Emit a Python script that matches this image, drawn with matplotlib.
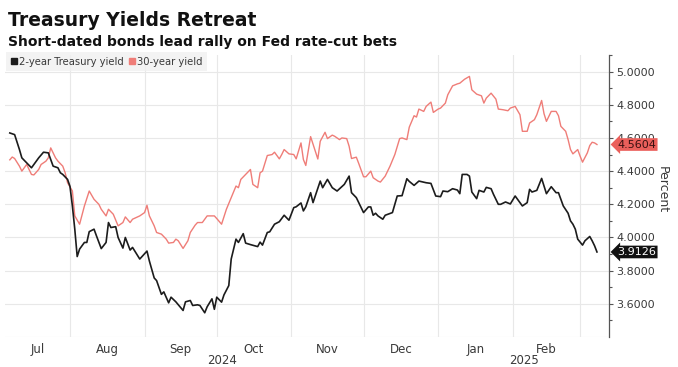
import matplotlib
matplotlib.use("Agg")
import matplotlib.pyplot as plt
import matplotlib.dates as mdates
import pandas as pd
import numpy as np

# ---------------- data ----------------
two_year_dates = [
    "2024-07-07","2024-07-09","2024-07-11","2024-07-12","2024-07-14","2024-07-16","2024-07-17","2024-07-19",
    "2024-07-21","2024-07-23","2024-07-24","2024-07-25","2024-07-27","2024-07-28","2024-07-29","2024-07-31",
    "2024-08-01","2024-08-02","2024-08-03","2024-08-04","2024-08-05","2024-08-07","2024-08-08","2024-08-09",
    "2024-08-11","2024-08-12","2024-08-14","2024-08-16","2024-08-17","2024-08-18","2024-08-20","2024-08-21",
    "2024-08-23","2024-08-24","2024-08-26","2024-08-27","2024-08-30","2024-09-02","2024-09-03","2024-09-05",
    "2024-09-06","2024-09-08","2024-09-09","2024-09-11","2024-09-12","2024-09-14","2024-09-17","2024-09-18",
    "2024-09-20","2024-09-21","2024-09-23","2024-09-24","2024-09-26","2024-09-27","2024-09-29","2024-09-30",
    "2024-10-01","2024-10-03","2024-10-04","2024-10-06","2024-10-07","2024-10-09","2024-10-10","2024-10-12",
    "2024-10-13","2024-10-15","2024-10-18","2024-10-19","2024-10-20","2024-10-22","2024-10-23","2024-10-25",
    "2024-10-27","2024-10-29","2024-10-31","2024-11-02","2024-11-03","2024-11-05","2024-11-06","2024-11-07",
    "2024-11-09","2024-11-10","2024-11-13","2024-11-14","2024-11-16","2024-11-18","2024-11-20","2024-11-23",
    "2024-11-25","2024-11-26","2024-11-28","2024-12-01","2024-12-03","2024-12-04","2024-12-05","2024-12-06",
    "2024-12-07","2024-12-09","2024-12-10","2024-12-13","2024-12-15","2024-12-17","2024-12-19","2024-12-20",
    "2024-12-22","2024-12-24","2024-12-27","2024-12-29","2024-12-31","2025-01-02","2025-01-03","2025-01-05",
    "2025-01-07","2025-01-09","2025-01-10","2025-01-11","2025-01-13","2025-01-14","2025-01-15","2025-01-17",
    "2025-01-18","2025-01-20","2025-01-21","2025-01-23","2025-01-24","2025-01-26","2025-01-27","2025-01-29",
    "2025-01-31","2025-02-02","2025-02-04","2025-02-05","2025-02-07","2025-02-08","2025-02-09","2025-02-11",
    "2025-02-13","2025-02-14","2025-02-15","2025-02-17","2025-02-19","2025-02-20","2025-02-21","2025-02-22",
    "2025-02-24","2025-02-25","2025-02-26","2025-02-27","2025-02-28","2025-03-02","2025-03-03","2025-03-05",
    "2025-03-06","2025-03-07","2025-03-08",
]
two_year_yield = [
    4.630,4.620,4.530,4.480,4.450,4.420,4.440,4.480,
    4.514,4.510,4.470,4.430,4.420,4.390,4.380,4.350,
    4.308,4.190,4.050,3.885,3.930,3.970,3.970,4.035,
    4.050,4.010,3.933,3.970,4.090,4.060,4.065,4.000,
    3.936,4.000,3.924,3.940,3.870,3.918,3.858,3.756,
    3.740,3.657,3.672,3.606,3.640,3.612,3.560,3.612,
    3.620,3.590,3.594,3.590,3.546,3.582,3.630,3.567,
    3.640,3.610,3.654,3.710,3.870,3.990,3.970,4.023,
    3.966,3.957,3.945,3.972,3.954,4.030,4.034,4.080,
    4.095,4.134,4.104,4.180,4.185,4.208,4.160,4.185,
    4.270,4.210,4.340,4.300,4.350,4.300,4.280,4.320,
    4.370,4.270,4.240,4.150,4.184,4.184,4.134,4.146,
    4.130,4.110,4.134,4.150,4.250,4.252,4.354,4.338,
    4.314,4.340,4.330,4.326,4.250,4.246,4.280,4.276,
    4.294,4.286,4.264,4.380,4.380,4.370,4.274,4.234,
    4.284,4.274,4.302,4.294,4.260,4.200,4.200,4.214,
    4.202,4.250,4.210,4.190,4.210,4.290,4.274,4.284,
    4.356,4.310,4.264,4.306,4.270,4.270,4.230,4.190,
    4.146,4.100,4.080,4.050,3.990,3.954,3.980,4.006,
    3.980,3.950,3.9126,
]

thirty_year_dates = [
    "2024-07-07","2024-07-08","2024-07-09","2024-07-11","2024-07-12","2024-07-14","2024-07-16","2024-07-17",
    "2024-07-19","2024-07-20","2024-07-22","2024-07-23","2024-07-24","2024-07-26","2024-07-27","2024-07-29",
    "2024-07-30","2024-07-31","2024-08-02","2024-08-03","2024-08-05","2024-08-07","2024-08-09","2024-08-11",
    "2024-08-13","2024-08-14","2024-08-16","2024-08-17","2024-08-19","2024-08-21","2024-08-23","2024-08-24",
    "2024-08-26","2024-08-27","2024-08-30","2024-09-01","2024-09-02","2024-09-03","2024-09-05","2024-09-06",
    "2024-09-08","2024-09-10","2024-09-11","2024-09-13","2024-09-14","2024-09-15","2024-09-17","2024-09-19",
    "2024-09-20","2024-09-22","2024-09-23","2024-09-25","2024-09-27","2024-09-28","2024-09-30","2024-10-01",
    "2024-10-03","2024-10-05","2024-10-07","2024-10-09","2024-10-10","2024-10-11","2024-10-13","2024-10-15",
    "2024-10-16","2024-10-18","2024-10-19","2024-10-20","2024-10-22","2024-10-24","2024-10-25","2024-10-27",
    "2024-10-28","2024-10-29","2024-10-31","2024-11-02","2024-11-03","2024-11-05","2024-11-06","2024-11-07",
    "2024-11-09","2024-11-12","2024-11-13","2024-11-15","2024-11-16","2024-11-18","2024-11-19","2024-11-21",
    "2024-11-22","2024-11-24","2024-11-25","2024-11-26","2024-11-28","2024-11-29","2024-12-01","2024-12-02",
    "2024-12-04","2024-12-05","2024-12-07","2024-12-08","2024-12-10","2024-12-12","2024-12-14","2024-12-16",
    "2024-12-17","2024-12-19","2024-12-20","2024-12-22","2024-12-23","2024-12-24","2024-12-26","2024-12-27",
    "2024-12-29","2024-12-30","2025-01-01","2025-01-02","2025-01-04","2025-01-05","2025-01-07","2025-01-09",
    "2025-01-10","2025-01-12","2025-01-14","2025-01-15","2025-01-17","2025-01-19","2025-01-20","2025-01-21",
    "2025-01-23","2025-01-25","2025-01-26","2025-01-28","2025-01-30","2025-01-31","2025-02-02","2025-02-04",
    "2025-02-05","2025-02-07","2025-02-08","2025-02-10","2025-02-11","2025-02-13","2025-02-14","2025-02-15",
    "2025-02-17","2025-02-19","2025-02-20","2025-02-21","2025-02-23","2025-02-24","2025-02-25","2025-02-26",
    "2025-02-28","2025-03-01","2025-03-02","2025-03-04","2025-03-05","2025-03-06","2025-03-07","2025-03-08",
]
thirty_year_yield = [
    4.468,4.485,4.476,4.430,4.400,4.440,4.380,4.377,
    4.410,4.440,4.460,4.480,4.540,4.480,4.460,4.430,
    4.390,4.330,4.280,4.130,4.080,4.190,4.280,4.230,
    4.200,4.170,4.130,4.170,4.140,4.070,4.090,4.124,
    4.090,4.110,4.130,4.150,4.194,4.130,4.070,4.030,
    4.020,3.990,3.966,3.970,3.990,3.980,3.934,3.980,
    4.030,4.074,4.090,4.090,4.130,4.130,4.130,4.114,
    4.080,4.170,4.240,4.310,4.300,4.350,4.380,4.410,
    4.320,4.300,4.390,4.400,4.494,4.500,4.514,4.474,
    4.500,4.530,4.504,4.500,4.474,4.570,4.470,4.434,
    4.608,4.473,4.580,4.634,4.596,4.617,4.610,4.590,
    4.600,4.596,4.550,4.476,4.484,4.446,4.366,4.366,
    4.400,4.360,4.340,4.334,4.370,4.430,4.500,4.596,
    4.600,4.590,4.665,4.734,4.726,4.774,4.760,4.790,
    4.816,4.754,4.774,4.780,4.810,4.860,4.914,4.926,
    4.930,4.954,4.971,4.890,4.864,4.854,4.810,4.840,
    4.870,4.834,4.774,4.770,4.764,4.780,4.790,4.740,
    4.640,4.640,4.690,4.710,4.740,4.826,4.746,4.700,
    4.760,4.760,4.734,4.670,4.640,4.590,4.530,4.504,
    4.530,4.490,4.454,4.510,4.554,4.574,4.570,4.5604,
]

series_labels = ["2-year Treasury yield", "30-year yield"]
title = "Treasury Yields Retreat"
subtitle = "Short-dated bonds lead rally on Fed rate-cut bets"
y_ticks = [3.6, 3.8, 4.0, 4.2, 4.4, 4.6, 4.8, 5.0]

# ---------------- style ----------------
BLACK = "#1c1c1c"
RED_LINE = "#ef7d78"
RED_TAG = "#ea5f5b"
GRID = "#e8e8e8"
TXT = "#3a3a3a"
plt.rcParams["font.family"] = ["DejaVu Sans"]

fig = plt.figure(figsize=(6.78, 3.67), dpi=100)
ax = fig.add_axes([5 / 678, 1 - 337 / 367, (609 - 5) / 678, (337 - 55) / 367])

d2 = pd.to_datetime(two_year_dates)
d30 = pd.to_datetime(thirty_year_dates)
ax.plot(d30, thirty_year_yield, color=RED_LINE, lw=1.0, zorder=3)
ax.plot(d2, two_year_yield, color=BLACK, lw=1.2, zorder=4)

x0 = pd.Timestamp("2024-07-05")
x1 = pd.Timestamp("2025-03-13")
ax.set_xlim(x0, x1)
ax.set_ylim(3.4, 5.1)

# y axis on the right
ax.yaxis.tick_right()
ax.set_yticks(y_ticks)
ax.set_yticks(np.arange(3.5, 5.11, 0.2), minor=True)
ax.yaxis.set_major_formatter(matplotlib.ticker.FormatStrFormatter("%.4f"))
ax.tick_params(axis="y", which="major", direction="out", length=3, width=0.8,
               color="#555555", labelsize=8, labelcolor=TXT, pad=2)
ax.tick_params(axis="y", which="minor", direction="out", length=2, width=0.8, color="#555555")
for s in ["left", "top", "bottom"]:
    ax.spines[s].set_visible(False)
ax.spines["right"].set_color("#555555")
ax.spines["right"].set_linewidth(0.9)

# horizontal grid (including bottom 3.4 line)
for v in [3.4] + y_ticks:
    ax.axhline(v, color=GRID, lw=0.8, zorder=1)

# x axis: gridlines at month starts, labels centred within visible part of month
month_starts = pd.date_range("2024-08-01", "2025-03-01", freq="MS")
for m in month_starts:
    ax.axvline(m, color=GRID, lw=0.8, zorder=1)
label_months = pd.date_range("2024-07-01", "2025-02-01", freq="MS")
centers, labels = [], []
for m in label_months:
    a = max(m, x0)
    b = min(m + pd.offsets.MonthBegin(1), x1)
    centers.append(a + (b - a) / 2)
    labels.append(m.strftime("%b"))
ax.set_xticks(centers)
ax.set_xticklabels(labels)
ax.tick_params(axis="x", which="both", length=0, labelsize=8.5, labelcolor=TXT, pad=4)

# year labels
for yr, a, b in [("2024", x0, pd.Timestamp("2025-01-01")), ("2025", pd.Timestamp("2025-01-01"), x1)]:
    c = a + (b - a) / 2
    ax.annotate(yr, xy=(mdates.date2num(c), 0), xycoords=("data", "axes fraction"),
                xytext=(0, -24), textcoords="offset pixels", ha="center", va="center",
                fontsize=8.5, color=TXT)

# Percent label
fig.text(662 / 678, 1 - 190 / 367, "Percent", rotation=270, ha="center", va="center",
         fontsize=9, color=TXT)

# last value tags
ax.annotate(f"{thirty_year_yield[-1]:.4f}", xy=(1, thirty_year_yield[-1]), xycoords=("axes fraction", "data"),
            xytext=(6, 0), textcoords="offset points", ha="left", va="center", fontsize=8,
            color="#3a1010", bbox=dict(boxstyle="larrow,pad=0.12", fc=RED_TAG, ec="none"),
            annotation_clip=False, zorder=6)
ax.annotate(f"{two_year_yield[-1]:.4f}", xy=(1, two_year_yield[-1]), xycoords=("axes fraction", "data"),
            xytext=(6, 0), textcoords="offset points", ha="left", va="center", fontsize=8,
            color="white", bbox=dict(boxstyle="larrow,pad=0.12", fc="#111111", ec="none"),
            annotation_clip=False, zorder=6)

# legend
from matplotlib.lines import Line2D
handles = [Line2D([], [], marker="s", ls="none", color=BLACK, markersize=5),
           Line2D([], [], marker="s", ls="none", color=RED_LINE, markersize=5)]
leg = ax.legend(handles, series_labels, loc="upper left", bbox_to_anchor=(0.002, 1.01), ncol=2,
                fontsize=7.2, frameon=True, handlelength=0.6, handletextpad=0.2, columnspacing=0.6,
                borderpad=0.45, borderaxespad=0)
leg.get_frame().set_facecolor("#f0f0f0")
leg.get_frame().set_edgecolor("none")
leg.get_frame().set_boxstyle("square", pad=0)
for t in leg.get_texts():
    t.set_color(TXT)

# titles
fig.text(8 / 678, 1 - 21 / 367, title, fontsize=13.5, fontweight="bold", ha="left", va="center",
         color="#111111")
fig.text(8 / 678, 1 - 42 / 367, subtitle, fontsize=10, fontweight="bold", ha="left", va="center",
         color="#111111")

fig.savefig("out.png", dpi=100)
